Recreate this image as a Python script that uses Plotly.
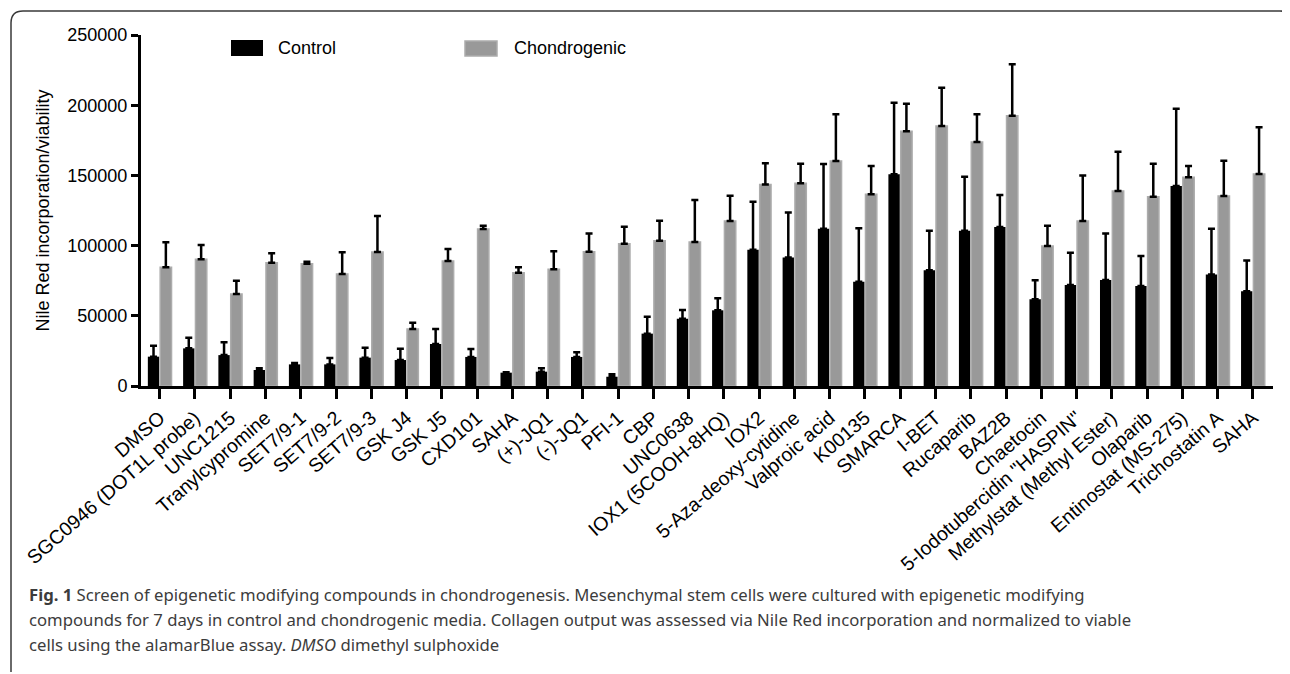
import plotly.graph_objects as go

categories = ["DMSO", "SGC0946 (DOT1L probe)", "UNC1215", "Tranylcypromine", "SET7/9-1",
              "SET7/9-2", "SET7/9-3", "GSK J4", "GSK J5", "CXD101", "SAHA", "(+)-JQ1",
              "(-)-JQ1", "PFI-1", "CBP", "UNC0638", "IOX1 (5COOH-8HQ)", "IOX2",
              "5-Aza-deoxy-cytidine", "Valproic acid", "K00135", "SMARCA", "I-BET",
              "Rucaparib", "BAZ2B", "Chaetocin", "5-Iodotubercidin \"HASPIN\"",
              "Methylstat (Methyl Ester)", "Olaparib", "Entinostat (MS-275)",
              "Trichostatin A", "SAHA"]

control_mean = [20900, 26800, 22000, 11400, 15400, 15400, 20200, 18500, 29900, 20700, 9500, 10200,
                20700, 6600, 37300, 47900, 53900, 97100, 91600, 112000, 74300, 150800, 82400,
                110600, 113200, 61700, 71900, 75500, 71200, 142500, 79500, 67400]
control_sd = [7800, 7600, 9100, 1200, 1000, 4500, 7100, 8100, 10700, 5700, 300, 2400,
              3300, 1700, 12100, 6200, 8600, 34200, 31900, 46100, 38000, 51000, 28200,
              38500, 22800, 13600, 23000, 33200, 21400, 55000, 32500, 21900]

chondro_mean = [84500, 90200, 65500, 87800, 87100, 79800, 95400, 40600, 89000, 111800, 80700, 83100,
                95700, 101400, 103500, 102600, 117500, 143600, 144400, 160300, 136500, 181400, 185200,
                173800, 192500, 99700, 117500, 138900, 134800, 148600, 135300, 151000]
chondro_sd = [17800, 10200, 9500, 6700, 1400, 15400, 25600, 4500, 8600, 2400, 3800, 12800,
              13000, 12100, 14200, 29900, 18000, 15000, 13900, 33200, 20200, 19700, 27300,
              19700, 36600, 14500, 32500, 28000, 23500, 8100, 25200, 33300]

y_ticks = [0, 50000, 100000, 150000, 200000, 250000]
series_names = ["Control", "Chondrogenic"]

x = list(range(len(categories)))
FONT = "Liberation Sans, Arial, sans-serif"
GREY = "#999999"
GREY_EDGE = "#acacac"

fig = go.Figure()
fig.add_trace(go.Bar(
    x=x, y=control_mean, name=series_names[0],
    marker=dict(color="#000000", line=dict(width=0)),
    error_y=dict(type="data", array=control_sd, arrayminus=[0] * len(x), symmetric=False,
                 color="#000000", thickness=2.5, width=3.5),
    showlegend=False,
))
fig.add_trace(go.Bar(
    x=x, y=chondro_mean, name=series_names[1],
    marker=dict(color=GREY, line=dict(width=1.5, color=GREY_EDGE)),
    error_y=dict(type="data", array=chondro_sd, arrayminus=[0] * len(x), symmetric=False,
                 color="#000000", thickness=2.5, width=3.5),
    showlegend=False,
))

# The page body adds an 8px offset; work in screen pixels and subtract it.
OFF = 8
W, H = 1290 - OFF, 674 - OFF
L, R, T, B = 141 - OFF, 1273 - OFF, 35 - OFF, 386 - OFF


def px(v):
    return (v - OFF - L) / (R - L)


def py(v):
    return (B - (v - OFF)) / (B - T)


shapes = []
annotations = []

# Custom legend swatches (wide rectangles as in the reference)
shapes.append(dict(type="rect", xref="paper", yref="paper",
                   x0=px(231), x1=px(263), y0=py(56), y1=py(40),
                   fillcolor="#000000", line=dict(width=0)))
shapes.append(dict(type="rect", xref="paper", yref="paper",
                   x0=px(465), x1=px(497), y0=py(56), y1=py(41),
                   fillcolor=GREY, line=dict(width=1.5, color=GREY_EDGE)))
annotations.append(dict(xref="paper", yref="paper", x=px(276), y=py(48), text=series_names[0],
                        showarrow=False, xanchor="left", yanchor="middle",
                        font=dict(family=FONT, size=18, color="#000000")))
annotations.append(dict(xref="paper", yref="paper", x=px(512), y=py(48), text=series_names[1],
                        showarrow=False, xanchor="left", yanchor="middle",
                        font=dict(family=FONT, size=18, color="#000000")))

# Rounded frame around the figure
fx0, fy0, fx1, fy1, rr = 11, 11, 1288, 672, 12
path = (f"M {px(fx0)},{py(fy1)} L {px(fx0)},{py(fy0 + rr)} "
        f"Q {px(fx0)},{py(fy0)} {px(fx0 + rr)},{py(fy0)} "
        f"L {px(fx1 - 8)},{py(fy0)} Q {px(fx1 - 1)},{py(fy0)} {px(fx1)},{py(fy0 + 5)}")
shapes.append(dict(type="path", xref="paper", yref="paper", path=path,
                   line=dict(color="#3a3a3a", width=1.5)))

# Caption
CAP_FONT = dict(family="Noto Sans, Open Sans, sans-serif", size=16.7, color="#3c3c3c")
caption_lines = [
    "<b>Fig. 1</b> Screen of epigenetic modifying compounds in chondrogenesis. Mesenchymal stem cells were cultured with epigenetic modifying",
    "compounds for 7 days in control and chondrogenic media. Collagen output was assessed via Nile Red incorporation and normalized to viable",
    "cells using the alamarBlue assay. <i>DMSO</i> dimethyl sulphoxide",
]
for i, line in enumerate(caption_lines):
    annotations.append(dict(xref="paper", yref="paper", x=px(27), y=py(594 + 25 * i), text=line,
                            showarrow=False, xanchor="left", yanchor="middle", font=CAP_FONT))

fig.update_layout(
    width=W, height=H, autosize=False,
    margin=dict(l=L, r=W - R, t=T, b=H - B, pad=0),
    paper_bgcolor="white", plot_bgcolor="white",
    barmode="group", bargap=0.30, bargroupgap=0.08,
    font=dict(family=FONT, size=18, color="#000000"),
    shapes=shapes, annotations=annotations,
    showlegend=False,
)
fig.update_xaxes(
    range=[-0.53, 31.57], tickmode="array", tickvals=x, ticktext=categories,
    tickangle=-41, ticks="outside", ticklen=10, tickwidth=3, tickcolor="#000000",
    showline=True, linecolor="#000000", linewidth=3, showgrid=False, zeroline=False,
    tickfont=dict(family=FONT, size=19.5, color="#000000"),
)
fig.update_yaxes(
    range=[0, 250000], tickmode="array", tickvals=y_ticks, ticktext=[str(v) for v in y_ticks],
    ticks="outside", ticklen=7, tickwidth=3, tickcolor="#000000",
    showline=True, linecolor="#000000", linewidth=3, showgrid=False, zeroline=False,
    tickfont=dict(family=FONT, size=18, color="#000000"),
    title=dict(text="Nile Red incorporation/viability", standoff=14,
               font=dict(family=FONT, size=18, color="#000000")),
)

fig.write_html("out.html")
